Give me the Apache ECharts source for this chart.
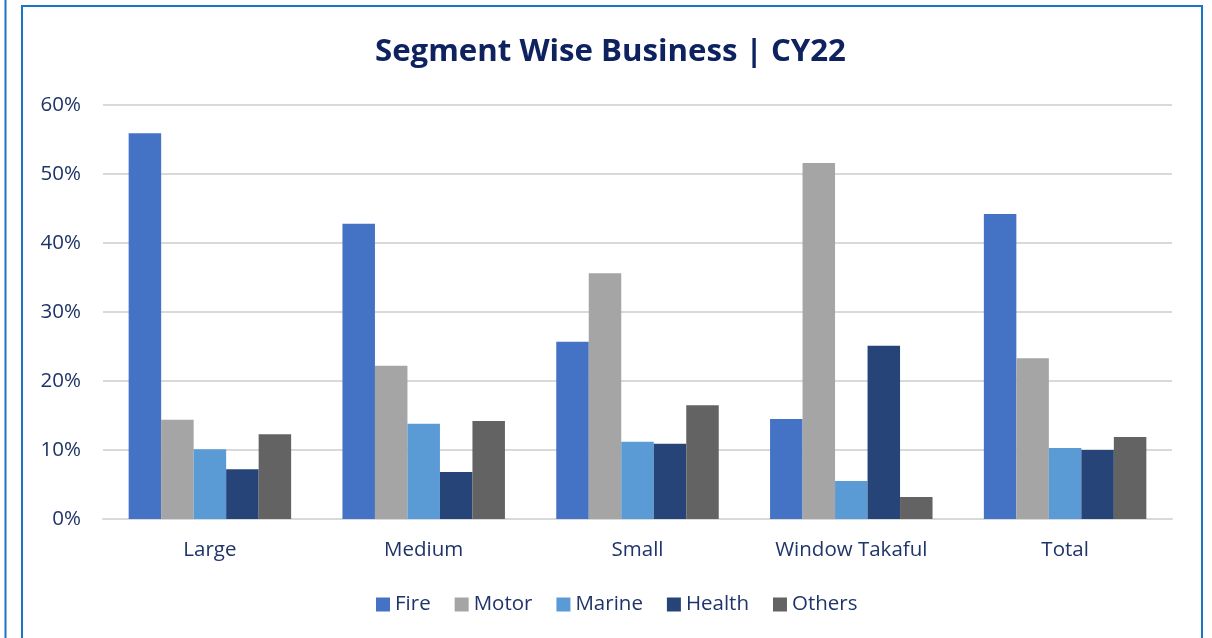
<!DOCTYPE html>
<html>
<head>
<meta charset="utf-8">
<script src="https://cdn.jsdelivr.net/npm/echarts@6/dist/echarts.min.js"></script>
<style>
html,body{margin:0;padding:0;background:#fff;}
#chart{width:1212px;height:638px;}
</style>
</head>
<body>
<div id="chart"></div>
<script>
const categories = ['Large', 'Medium', 'Small', 'Window Takaful', 'Total'];
const fire   = [55.9, 42.8, 25.7, 14.5, 44.2];
const motor  = [14.4, 22.2, 35.6, 51.6, 23.3];
const marine = [10.1, 13.8, 11.2, 5.5, 10.3];
const health = [7.2, 6.8, 10.9, 25.1, 10.0];
const others = [12.3, 14.2, 16.5, 3.2, 11.9];
const seriesNames = ['Fire', 'Motor', 'Marine', 'Health', 'Others'];
const seriesData = [fire, motor, marine, health, others];
const colors = ['#4472C4', '#A5A5A5', '#5B9BD5', '#264478', '#636363'];
const yTicks = [0, 10, 20, 30, 40, 50, 60];

const font = '"Open Sans", "DejaVu Sans", sans-serif';
const textColor = '#1F3468';

const chart = echarts.init(document.getElementById('chart'), null, {renderer: 'canvas'});
chart.setOption({
  animation: false,
  color: colors,
  title: {
    text: 'Segment Wise Business | CY22',
    left: 370,
    top: 32,
    textStyle: {fontFamily: font, fontWeight: 'bold', fontSize: 31.2, color: '#0E2260'}
  },
  graphic: [
    {type: 'line', shape: {x1: 5.5, y1: 0, x2: 5.5, y2: 638}, style: {stroke: '#1A75C4', lineWidth: 2}},
    {type: 'rect', shape: {x: 22, y: 6, width: 1180, height: 700}, style: {fill: 'none', stroke: '#1A75C4', lineWidth: 2}}
  ],
  legend: {
    data: seriesNames,
    bottom: 18,
    left: 371,
    itemWidth: 14,
    itemHeight: 14,
    itemGap: 24,
    icon: 'rect',
    textStyle: {fontFamily: font, fontSize: 20.5, color: textColor}
  },
  grid: {left: 103, right: 40, top: 105, bottom: 119, containLabel: false},
  xAxis: {
    type: 'category',
    data: categories,
    axisLine: {show: true, lineStyle: {color: '#D9D9D9', width: 2}},
    axisTick: {show: false},
    axisLabel: {fontFamily: font, fontSize: 20.5, color: textColor, margin: 21}
  },
  yAxis: {
    type: 'value',
    min: yTicks[0],
    max: yTicks[yTicks.length - 1],
    interval: 10,
    axisLine: {show: false},
    axisTick: {show: false},
    splitLine: {lineStyle: {color: '#D9D9D9', width: 2}},
    axisLabel: {fontFamily: font, fontSize: 20.5, color: textColor, margin: 22, formatter: v => v + '%'}
  },
  series: seriesNames.map((name, i) => ({
    name: name,
    type: 'bar',
    data: seriesData[i],
    barGap: '0%',
    barCategoryGap: '24%',
    itemStyle: {color: colors[i]}
  }))
});
</script>
</body>
</html>
